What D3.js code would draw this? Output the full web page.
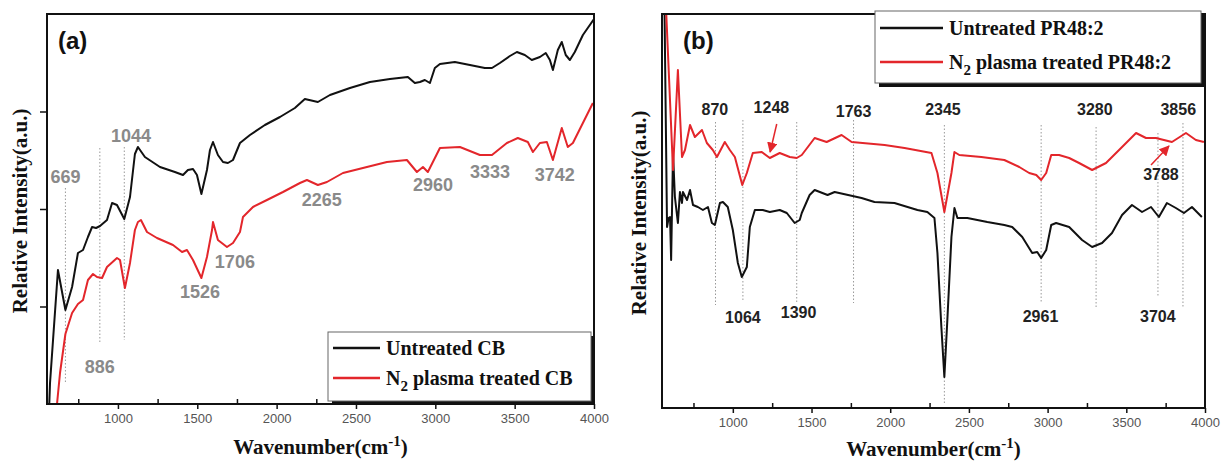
<!DOCTYPE html>
<html><head><meta charset="utf-8">
<script src="https://cdn.jsdelivr.net/npm/d3@7/dist/d3.min.js"></script>
<style>body{margin:0;background:#fff}svg{display:block}</style>
</head><body><svg id="c" width="1224" height="461"></svg>
<script>
// ---------------- DATA ----------------
const xTickValues = [1000, 1500, 2000, 2500, 3000, 3500, 4000];
const xMinorTicks = [750, 1250, 1750, 2250, 2750, 3250, 3750];
const yTicksA = [97.5, 195, 292.5];

// Panel (a): [wavenumber, relative intensity (a.u.)]
const untreatedCB = [
 [565,-10],[572,21],[591,64],[622,134],[669,94],[711,117],[748,151],[780,154],[811,167],[837,177],[862,176],[887,178],[931,184],[963,201],[994,199],[1040,185],[1076,207],[1107,250],[1126,257],[1170,247],[1265,237],[1359,232],[1410,229],[1441,234],[1473,235],[1498,229],[1526,210],[1561,234],[1580,254],[1599,262],[1630,249],[1662,242],[1693,241],[1725,244],[1769,261],[1832,269],[1926,279],[2021,287],[2115,296],[2178,305],[2260,302],[2336,309],[2462,316],[2588,322],[2714,325],[2827,327],[2871,321],[2903,322],[2934,324],[2966,321],[2997,336],[3029,340],[3123,342],[3218,339],[3312,336],[3357,336],[3407,341],[3470,348],[3514,352],[3564,349],[3608,344],[3659,347],[3696,351],[3722,344],[3741,334],[3772,354],[3797,362],[3822,349],[3848,344],[3879,352],[3930,369],[4000,385]
];
const treatedCB = [
 [610,-10],[635,31],[669,70],[711,91],[748,100],[780,104],[811,124],[843,130],[868,127],[900,126],[931,137],[994,146],[1013,144],[1044,116],[1076,141],[1107,174],[1126,182],[1145,184],[1183,172],[1246,166],[1347,159],[1404,152],[1435,154],[1473,144],[1526,126],[1561,147],[1593,174],[1599,182],[1630,164],[1687,157],[1725,161],[1769,172],[1788,187],[1851,197],[1939,204],[2040,212],[2147,221],[2191,224],[2260,219],[2317,222],[2418,231],[2569,237],[2695,242],[2821,244],[2884,232],[2922,237],[2953,232],[3029,256],[3155,257],[3281,249],[3357,249],[3451,261],[3520,266],[3583,262],[3615,252],[3659,261],[3703,262],[3741,244],[3797,276],[3835,257],[3867,261],[3993,301]
];
// Panel (b)
const untreatedPR = [
 [565,410],[582,181],[592,190],[601,191],[608,148],[620,255],[632,211],[651,185],[664,216],[677,205],[683,216],[709,208],[728,218],[747,203],[778,201],[810,198],[842,201],[867,185],[886,183],[918,205],[937,206],[968,201],[1000,178],[1032,145],[1057,131],[1089,141],[1108,181],[1140,198],[1190,198],[1235,196],[1298,198],[1343,195],[1393,185],[1425,188],[1438,195],[1488,213],[1520,218],[1602,213],[1647,216],[1818,210],[1900,206],[2027,205],[2173,198],[2236,196],[2281,190],[2300,155],[2325,81],[2344,31],[2363,88],[2389,171],[2408,200],[2427,190],[2490,190],[2617,186],[2725,183],[2775,181],[2839,171],[2902,155],[2934,156],[2959,150],[2991,158],[3023,183],[3054,185],[3137,181],[3219,168],[3283,161],[3346,165],[3409,175],[3473,193],[3536,203],[3600,196],[3657,201],[3707,191],[3758,205],[3815,200],[3866,195],[3917,201],[3980,191]
];
const treatedPR = [
 [570,420],[620,238],[651,338],[677,251],[696,258],[728,283],[759,271],[804,278],[835,265],[873,258],[899,251],[949,266],[981,258],[1013,251],[1060,223],[1089,235],[1127,255],[1184,256],[1235,250],[1298,255],[1362,251],[1406,250],[1438,253],[1520,270],[1596,266],[1691,273],[1755,266],[1964,263],[2091,260],[2262,255],[2300,235],[2344,196],[2389,235],[2408,256],[2439,253],[2579,251],[2725,248],[2820,241],[2883,235],[2928,233],[2959,228],[2991,235],[3023,253],[3073,253],[3137,250],[3200,245],[3283,238],[3371,245],[3454,258],[3562,275],[3625,270],[3688,270],[3790,266],[3879,275],[3942,268],[3993,266]
];

// Annotations (data units): label text, label wavenumber, label intensity
const peakLabelsA = [
 ["669", 669, 221], ["886", 886, 31], ["1044", 1082, 262], ["1526", 1517, 106],
 ["1706", 1737, 136], ["2265", 2285, 198], ["2960", 2985, 213], ["3333", 3344, 226], ["3742", 3753, 223]
];
// dotted guide lines: wavenumber, top intensity, bottom intensity
const guidesA = [[669, 216, 21], [886, 256, 61], [1040, 257, 64]];

const peakLabelsB = [
 ["870", 886, 293], ["1248", 1245, 295], ["1763", 1767, 291], ["2345", 2335, 293],
 ["3280", 3300, 293], ["3856", 3830, 293], ["3788", 3720, 228],
 ["1064", 1064, 85], ["1390", 1418, 90], ["2961", 2955, 86], ["3704", 3700, 86]
];
const guidesB = [[890, 286, 103], [1064, 288, 108], [1406, 286, 105], [1767, 288, 105],
 [2344, 283, 5], [2959, 283, 105], [3308, 281, 100], [3701, 275, 111], [3860, 285, 101]];
// arrows: from [wn, I] to [wn, I]
const arrowsB = [[[1279, 284], [1237, 256]], [[3657, 243], [3771, 262]]];

const legendA = ["Untreated CB", "plasma treated CB"];
const legendB = ["Untreated PR48:2", "plasma treated PR48:2"];

// ---------------- DRAW ----------------
const svg = d3.select("#c");
const RED = "#e3262b", BLACK = "#111";
svg.append("defs").append("marker").attr("id","ah").attr("viewBox","0 0 10 10")
  .attr("refX",9).attr("refY",5).attr("markerWidth",7).attr("markerHeight",7).attr("orient","auto")
  .append("path").attr("d","M0,0L10,5L0,10z").attr("fill",RED);

function panel(cfg) {
  const x = d3.scaleLinear().domain(cfg.xd).range([cfg.l, cfg.r]);
  const y = d3.scaleLinear().domain(cfg.yd).range([cfg.b, cfg.t]);
  const g = svg.append("g");
  const cid = "clip" + cfg.id;
  g.append("clipPath").attr("id", cid).append("rect")
    .attr("x", cfg.l).attr("y", cfg.t).attr("width", cfg.r - cfg.l).attr("height", cfg.b - cfg.t);

  // guides
  g.selectAll(".guide").data(cfg.guides).join("line")
    .attr("x1", d => x(d[0])).attr("x2", d => x(d[0]))
    .attr("y1", d => y(d[1])).attr("y2", d => y(d[2]))
    .attr("stroke", "#999").attr("stroke-width", 1).attr("stroke-dasharray", "1.5,2");

  const line = d3.line().x(d => x(d[0])).y(d => y(d[1]));
  const cg = g.append("g").attr("clip-path", `url(#${cid})`);
  cfg.series.forEach(s => {
    cg.append("path").datum(s.data).attr("d", line).attr("fill", "none")
      .attr("stroke", s.color).attr("stroke-width", 2).attr("stroke-linejoin", "round");
  });

  // frame
  g.append("rect").attr("x", cfg.l).attr("y", cfg.t).attr("width", cfg.r - cfg.l).attr("height", cfg.b - cfg.t)
    .attr("fill", "none").attr("stroke", "#111").attr("stroke-width", 2);

  // x axis: major ticks outward, minor inward
  const xa = g.append("g").attr("transform", `translate(0,${cfg.b})`)
    .call(d3.axisBottom(x).tickValues(xTickValues).tickSize(5).tickPadding(5).tickFormat(d3.format("d")));
  xa.select(".domain").remove();
  xa.selectAll("line").attr("stroke", "#111").attr("stroke-width", 1.5);
  xa.selectAll("text").attr("font-family", "Arial, Liberation Sans, sans-serif").attr("font-size", 13).attr("fill", "#555");
  const xm = g.append("g").attr("transform", `translate(0,${cfg.b})`)
    .call(d3.axisTop(x).tickValues(xMinorTicks).tickSize(5).tickFormat(""));
  xm.select(".domain").remove();
  xm.selectAll("line").attr("stroke", "#111").attr("stroke-width", 1.5);

  if (cfg.yTicks) {
    const ya = g.append("g").attr("transform", `translate(${cfg.l},0)`)
      .call(d3.axisLeft(y).tickValues(cfg.yTicks).tickSize(7).tickFormat(""));
    ya.select(".domain").remove();
    ya.selectAll("line").attr("stroke", "#111").attr("stroke-width", 1.5);
  }

  // titles
  const xt = g.append("text").attr("x", (cfg.l + cfg.r) / 2).attr("y", cfg.xLabelY).attr("text-anchor", "middle")
    .attr("font-family", "Liberation Serif, Times New Roman, serif").attr("font-weight", "bold").attr("font-size", 21)
    .attr("fill", "#111");
  xt.append("tspan").text("Wavenumber(cm");
  xt.append("tspan").attr("dy", -8).attr("font-size", 15).text("-1");
  xt.append("tspan").attr("dy", 8).text(")");
  g.append("text").attr("transform", `translate(${cfg.yLabelX},${(cfg.t + cfg.b) / 2 + 2}) rotate(-90)`)
    .attr("text-anchor", "middle").attr("font-family", "Liberation Serif, Times New Roman, serif")
    .attr("font-weight", "bold").attr("font-size", 21).attr("fill", "#111").text("Relative Intensity(a.u.)");
  g.append("text").attr("x", cfg.l + cfg.tagDx).attr("y", cfg.t + 35).attr("font-family", "Arial, Liberation Sans, sans-serif")
    .attr("font-weight", "bold").attr("font-size", 24).attr("fill", "#111").text(cfg.tag);

  // peak labels
  g.selectAll(".pl").data(cfg.labels).join("text")
    .attr("x", d => x(d[1])).attr("y", d => y(d[2])).attr("text-anchor", "middle")
    .attr("font-family", "Arial, Liberation Sans, sans-serif").attr("font-weight", "bold")
    .attr("font-size", cfg.labelSize).attr("fill", cfg.labelColor).text(d => d[0]);

  (cfg.arrows || []).forEach(a => {
    g.append("line").attr("x1", x(a[0][0])).attr("y1", y(a[0][1])).attr("x2", x(a[1][0])).attr("y2", y(a[1][1]))
      .attr("stroke", RED).attr("stroke-width", 1.5).attr("marker-end", "url(#ah)");
  });

  // legend
  const L = cfg.legend;
  const lg = svg.append("g");
  lg.append("rect").attr("x", L.x + 4).attr("y", L.y + 4).attr("width", L.w).attr("height", L.h).attr("fill", "#111");
  lg.append("rect").attr("x", L.x).attr("y", L.y).attr("width", L.w).attr("height", L.h)
    .attr("fill", "#fff").attr("stroke", "#666").attr("stroke-width", 1);
  [BLACK, RED].forEach((c, i) => {
    const yy = L.y + L.row0 + i * L.dy;
    lg.append("line").attr("x1", L.x + 5).attr("x2", L.x + L.lineLen).attr("y1", yy).attr("y2", yy)
      .attr("stroke", c).attr("stroke-width", 2.5);
    const t = lg.append("text").attr("x", L.x + L.lineLen + 6).attr("y", yy + 7)
      .attr("font-family", "Liberation Serif, Times New Roman, serif").attr("font-weight", "bold")
      .attr("font-size", L.fs).attr("fill", "#111");
    if (i === 0) t.text(L.items[0]);
    else {
      t.append("tspan").text("N");
      t.append("tspan").attr("dy", 6).attr("font-size", L.fs * 0.75).text("2");
      t.append("tspan").attr("dy", -6).text(" " + L.items[1]);
    }
  });
}

panel({
  id: "a", xd: [553, 4000], yd: [0, 390], l: 47, r: 594, t: 14, b: 404,
  series: [{data: untreatedCB, color: BLACK}, {data: treatedCB, color: RED}],
  guides: guidesA, labels: peakLabelsA, labelSize: 18, labelColor: "#8a8a8a",
  yTicks: yTicksA, xLabelY: 454, yLabelX: 27, tag: "(a)", tagDx: 11,
  legend: {x: 328, y: 332, w: 263, h: 69, row0: 16, dy: 30, lineLen: 52, fs: 20, items: legendA}
});
panel({
  id: "b", xd: [550, 4000], yd: [0, 394], l: 662, r: 1205, t: 14, b: 408,
  series: [{data: untreatedPR, color: BLACK}, {data: treatedPR, color: RED}],
  guides: guidesB, labels: peakLabelsB, labelSize: 16, labelColor: "#222", arrows: arrowsB,
  yTicks: null, xLabelY: 456, yLabelX: 646, tag: "(b)", tagDx: 21,
  legend: {x: 875, y: 11, w: 326, h: 72, row0: 17, dy: 34, lineLen: 68, fs: 20, items: legendB}
});
</script></body></html>
